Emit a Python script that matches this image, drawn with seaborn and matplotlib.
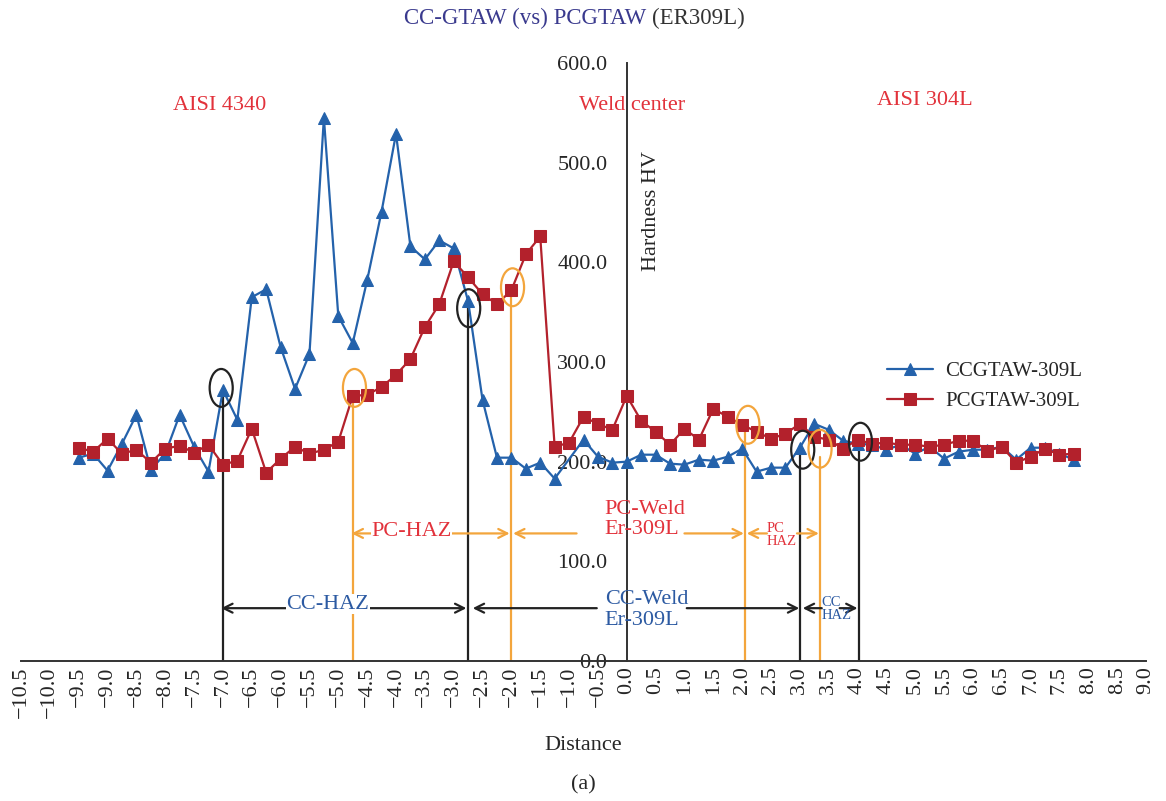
import numpy as np
import pandas as pd
import matplotlib
matplotlib.use("Agg")
import matplotlib.pyplot as plt
from matplotlib.patches import Ellipse
import seaborn as sns

# ---------------- data ----------------
cc_x = [-9.5, -9.25, -9.0, -8.75, -8.5, -8.25, -8.0, -7.75, -7.5, -7.25, -7.0, -6.75,
        -6.5, -6.25, -6.0, -5.75, -5.5, -5.25, -5.0, -4.75, -4.5, -4.25, -4.0, -3.75,
        -3.5, -3.25, -3.0, -2.75, -2.5, -2.25, -2.0, -1.75, -1.5, -1.25, -0.75, -0.5,
        -0.25, 0.0, 0.25, 0.5, 0.75, 1.0, 1.25, 1.5, 1.75, 2.0, 2.25, 2.5, 2.75, 3.0,
        3.25, 3.5, 3.75, 4.0, 4.25, 4.5, 4.75, 5.0, 5.25, 5.5, 5.75, 6.0, 6.25, 6.5,
        6.75, 7.0, 7.25, 7.5, 7.75]
cc_hv = [204, 208, 191, 218, 247, 192, 208, 247, 215, 190, 272, 242,
         365, 373, 315, 273, 308, 545, 346, 319, 382, 451, 529, 416,
         403, 422, 414, 361, 262, 204, 204, 193, 199, 183, 222, 205,
         199, 200, 207, 207, 198, 197, 202, 201, 205, 213, 190, 194, 194, 214,
         238, 232, 221, 218, 217, 212, 217, 208, 215, 203, 210, 212, 212, 215,
         202, 214, 214, 208, 202]

pc_x = [-9.5, -9.25, -9.0, -8.75, -8.5, -8.25, -8.0, -7.75, -7.5, -7.25, -7.0, -6.75,
        -6.5, -6.25, -6.0, -5.75, -5.5, -5.25, -5.0, -4.75, -4.5, -4.25, -4.0, -3.75,
        -3.5, -3.25, -3.0, -2.75, -2.5, -2.25, -2.0, -1.75, -1.5, -1.25, -1.0, -0.75,
        -0.5, -0.25, 0.0, 0.25, 0.5, 0.75, 1.0, 1.25, 1.5, 1.75, 2.0, 2.25, 2.5, 2.75,
        3.0, 3.25, 3.5, 3.75, 4.0, 4.25, 4.5, 4.75, 5.0, 5.25, 5.5, 5.75, 6.0, 6.25,
        6.5, 6.75, 7.0, 7.25, 7.5, 7.75]
pc_hv = [214, 210, 223, 208, 212, 199, 213, 216, 209, 217, 197, 201,
         233, 189, 203, 215, 208, 212, 220, 266, 267, 275, 287, 303,
         335, 358, 401, 385, 368, 358, 372, 408, 426, 215, 219, 245,
         238, 232, 266, 241, 230, 217, 233, 222, 253, 245, 237, 230, 223, 228,
         238, 225, 222, 213, 222, 218, 219, 217, 217, 215, 217, 221, 221, 211,
         215, 199, 205, 213, 207, 208]

series_names = ["CCGTAW-309L", "PCGTAW-309L"]
x_ticks = np.arange(-10.5, 9.01, 0.5)
y_ticks = [0, 100, 200, 300, 400, 500, 600]

# ---------------- style ----------------
sns.set_style("white")
plt.rcParams["font.family"] = ["Liberation Serif", "DejaVu Serif"]

BLUE = "#2462ab"
RED = "#b3212c"
ORANGE = "#f3a53c"
BLACK = "#222222"
TXT_RED = "#e2323b"
TXT_BLUE = "#2c5aa2"
NAVY = "#3a3a8e"
FS = 16

fig = plt.figure(figsize=(11.66, 8.01), dpi=100)
ax = fig.add_axes([21 / 1166, 1 - 661 / 801, (1146 - 21) / 1166, (661 - 63) / 801])

df_cc = pd.DataFrame({"Distance": cc_x, "HV": cc_hv})
df_pc = pd.DataFrame({"Distance": pc_x, "HV": pc_hv})

sns.lineplot(data=df_cc, x="Distance", y="HV", ax=ax, color=BLUE, marker="^",
             markersize=9, markeredgecolor=BLUE, linewidth=1.6, sort=False,
             label=series_names[0], zorder=3)
sns.lineplot(data=df_pc, x="Distance", y="HV", ax=ax, color=RED, marker="s",
             markersize=8, markeredgecolor=RED, linewidth=1.6, sort=False,
             label=series_names[1], zorder=4)

for s in ["top", "right"]:
    ax.spines[s].set_visible(False)
ax.spines["left"].set_position(("data", 0))

ax.set_xlim(-10.5, 9.0)
ax.set_ylim(0, 600)
ax.set_xticks(x_ticks)
ax.set_xticklabels([f"{v:.1f}".replace("-", "\u2212") for v in x_ticks], rotation=90)
ax.set_yticks(y_ticks)
ax.set_yticklabels([f"{v:.1f}" for v in y_ticks])

for s in ["left", "bottom"]:
    ax.spines[s].set_color("#333333")
    ax.spines[s].set_linewidth(1.4)
ax.tick_params(axis="x", direction="in", length=8, width=1.3, color="#333333",
               pad=4, labelsize=FS)
ax.tick_params(axis="y", direction="out", length=8, width=1.3, color="#333333",
               pad=6, labelsize=FS)
ax.set_xlabel("")
ax.set_ylabel("")
ax.grid(False)

# axis labels / titles
ax.text(0.42, 452, "Hardness HV", rotation=90, ha="center", va="center", fontsize=FS)
fig.text(583 / 1166, 1 - 745 / 801, "Distance", ha="center", va="center", fontsize=FS)
fig.text(583 / 1166, 1 - 785 / 801, "(a)", ha="center", va="center", fontsize=FS)
fig.text(646 / 1166, 1 - 18 / 801, "CC-GTAW (vs) PCGTAW", ha="right", va="center",
         fontsize=16.5, color=NAVY)
fig.text(652 / 1166, 1 - 18 / 801, "(ER309L)", ha="left", va="center",
         fontsize=16.5, color="#333333")

ax.text(-7.05, 557, "AISI 4340", ha="center", va="center", fontsize=FS, color=TXT_RED)
ax.text(0.1, 557, "Weld center", ha="center", va="center", fontsize=FS, color=TXT_RED)
ax.text(5.16, 562, "AISI 304L", ha="center", va="center", fontsize=FS, color=TXT_RED)

# vertical marker lines
vlines = [(-7.0, 270, BLACK), (-4.75, 266, ORANGE), (-2.75, 358, BLACK),
          (-2.0, 370, ORANGE), (2.05, 232, ORANGE), (3.0, 212, BLACK),
          (3.35, 205, ORANGE), (4.03, 220, BLACK)]
for xv, top, col in vlines:
    ax.plot([xv, xv], [0, top], color=col, lw=1.6, zorder=2)

ellipses = [(-7.03, 274, BLACK), (-4.72, 274, ORANGE), (-2.74, 354, BLACK),
            (-1.98, 375, ORANGE), (2.1, 237, ORANGE), (3.05, 212, BLACK),
            (3.35, 213, ORANGE), (4.05, 220, BLACK)]
for xe, ye, col in ellipses:
    ax.add_patch(Ellipse((xe, ye), 0.4, 38, fill=False, edgecolor=col, lw=1.6, zorder=5))


def arrow(x0, x1, y, col, style="->"):
    ax.annotate("", xy=(x1, y), xytext=(x0, y),
                arrowprops=dict(arrowstyle=style, color=col, lw=1.6,
                                shrinkA=0, shrinkB=0, mutation_scale=16), zorder=2)


# orange (PC) arrows
arrow(-4.77, -2.03, 128, ORANGE, "<->")
ax.text(-3.73, 130, "PC-HAZ", ha="center", va="center", fontsize=FS, color=TXT_RED,
        bbox=dict(facecolor="white", edgecolor="none", pad=0.5))
arrow(-0.87, -1.97, 128, ORANGE)
arrow(1.0, 2.03, 128, ORANGE)
ax.text(-0.38, 142, "PC-Weld\nEr-309L", ha="left", va="center", fontsize=FS,
        color=TXT_RED, linespacing=1.1)
arrow(2.43, 2.08, 128, ORANGE)
arrow(2.95, 3.33, 128, ORANGE)
ax.text(2.43, 126, "PC\nHAZ", ha="left", va="center", fontsize=10.5,
        color=TXT_RED, linespacing=1.0)

# black (CC) arrows
arrow(-7.03, -2.78, 53, BLACK, "<->")
ax.text(-5.18, 57, "CC-HAZ", ha="center", va="center", fontsize=FS, color=TXT_BLUE,
        bbox=dict(facecolor="white", edgecolor="none", pad=0.5))
arrow(-0.52, -2.67, 53, BLACK)
arrow(1.04, 2.99, 53, BLACK)
ax.text(-0.38, 51, "CC-Weld\nEr-309L", ha="left", va="center", fontsize=FS,
        color=TXT_BLUE, linespacing=1.1)
arrow(3.38, 3.05, 53, BLACK)
arrow(3.69, 4.0, 53, BLACK)
ax.text(3.38, 52, "CC\nHAZ", ha="left", va="center", fontsize=10.5,
        color=TXT_BLUE, linespacing=1.0)

leg = ax.legend(loc="upper left", bbox_to_anchor=(868 / 1166, 1 - 343 / 801),
                bbox_transform=fig.transFigure, frameon=False, fontsize=15,
                handlelength=2.2, labelspacing=0.5, handletextpad=0.6)

fig.savefig("out.png", dpi=100)
